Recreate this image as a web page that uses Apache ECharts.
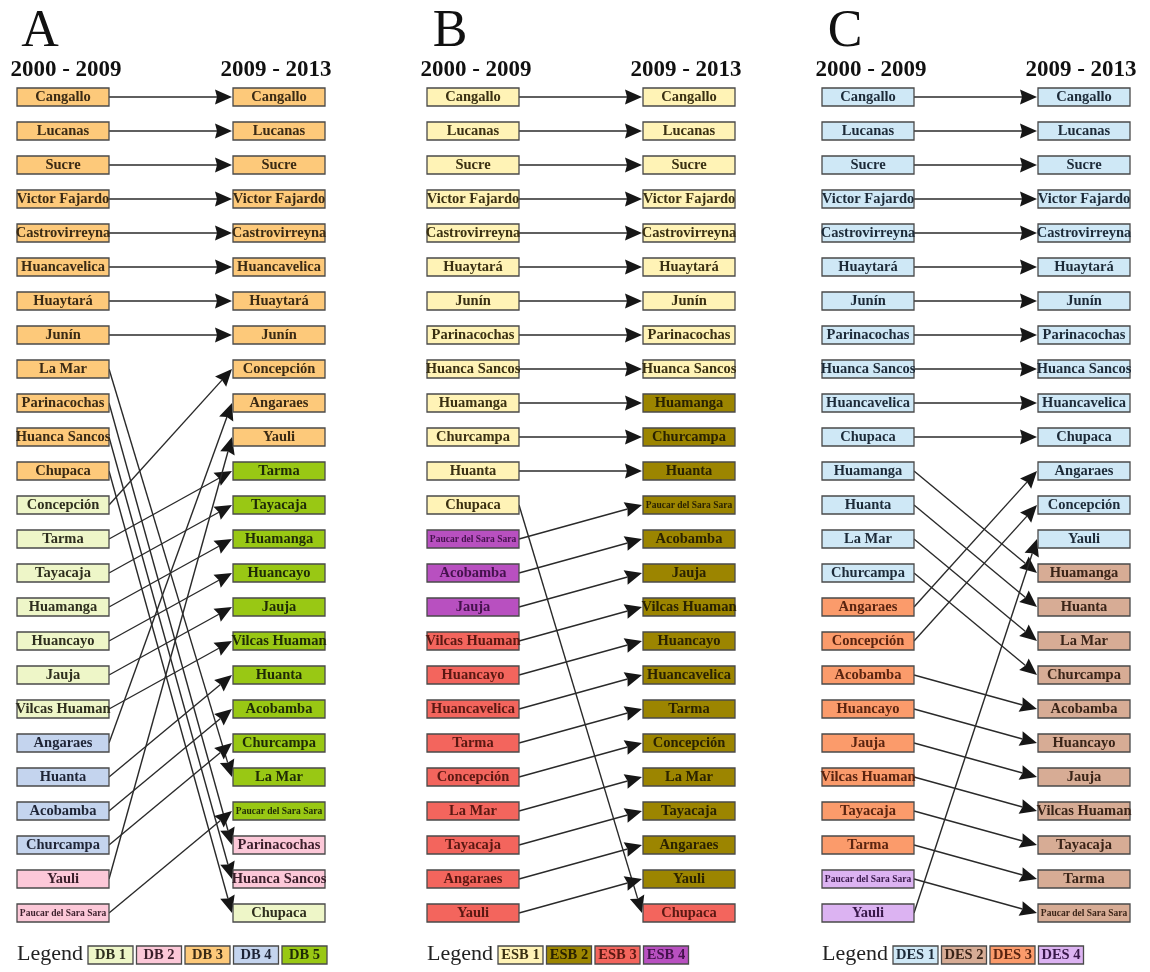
<!DOCTYPE html>
<html>
<head>
<meta charset="utf-8">
<script src="https://cdn.jsdelivr.net/npm/echarts@6/dist/echarts.min.js"></script>
<style>
html, body { margin: 0; padding: 0; background: #fff; }
#main { width: 1150px; height: 972px; }
</style>
</head>
<body>
<div id="main"></div>
<script>
var panelNames = ['A', 'B', 'C'];
var periods = ['2000 - 2009', '2009 - 2013'];

// A
var aLeft = ['Cangallo', 'Lucanas', 'Sucre', 'Victor Fajardo', 'Castrovirreyna', 'Huancavelica', 'Huaytará', 'Junín', 'La Mar', 'Parinacochas', 'Huanca Sancos', 'Chupaca', 'Concepción', 'Tarma', 'Tayacaja', 'Huamanga', 'Huancayo', 'Jauja', 'Vilcas Huaman', 'Angaraes', 'Huanta', 'Acobamba', 'Churcampa', 'Yauli', 'Paucar del Sara Sara'];
var aLeftClass = [3, 3, 3, 3, 3, 3, 3, 3, 3, 3, 3, 3, 1, 1, 1, 1, 1, 1, 1, 4, 4, 4, 4, 2, 2];
var aRight = ['Cangallo', 'Lucanas', 'Sucre', 'Victor Fajardo', 'Castrovirreyna', 'Huancavelica', 'Huaytará', 'Junín', 'Concepción', 'Angaraes', 'Yauli', 'Tarma', 'Tayacaja', 'Huamanga', 'Huancayo', 'Jauja', 'Vilcas Huaman', 'Huanta', 'Acobamba', 'Churcampa', 'La Mar', 'Paucar del Sara Sara', 'Parinacochas', 'Huanca Sancos', 'Chupaca'];
var aRightClass = [3, 3, 3, 3, 3, 3, 3, 3, 3, 3, 3, 5, 5, 5, 5, 5, 5, 5, 5, 5, 5, 5, 2, 2, 1];
var aLegend = ['DB 1', 'DB 2', 'DB 3', 'DB 4', 'DB 5'];

// B
var bLeft = ['Cangallo', 'Lucanas', 'Sucre', 'Victor Fajardo', 'Castrovirreyna', 'Huaytará', 'Junín', 'Parinacochas', 'Huanca Sancos', 'Huamanga', 'Churcampa', 'Huanta', 'Chupaca', 'Paucar del Sara Sara', 'Acobamba', 'Jauja', 'Vilcas Huaman', 'Huancayo', 'Huancavelica', 'Tarma', 'Concepción', 'La Mar', 'Tayacaja', 'Angaraes', 'Yauli'];
var bLeftClass = [1, 1, 1, 1, 1, 1, 1, 1, 1, 1, 1, 1, 1, 4, 4, 4, 3, 3, 3, 3, 3, 3, 3, 3, 3];
var bRight = ['Cangallo', 'Lucanas', 'Sucre', 'Victor Fajardo', 'Castrovirreyna', 'Huaytará', 'Junín', 'Parinacochas', 'Huanca Sancos', 'Huamanga', 'Churcampa', 'Huanta', 'Paucar del Sara Sara', 'Acobamba', 'Jauja', 'Vilcas Huaman', 'Huancayo', 'Huancavelica', 'Tarma', 'Concepción', 'La Mar', 'Tayacaja', 'Angaraes', 'Yauli', 'Chupaca'];
var bRightClass = [1, 1, 1, 1, 1, 1, 1, 1, 1, 2, 2, 2, 2, 2, 2, 2, 2, 2, 2, 2, 2, 2, 2, 2, 3];
var bLegend = ['ESB 1', 'ESB 2', 'ESB 3', 'ESB 4'];

// C
var cLeft = ['Cangallo', 'Lucanas', 'Sucre', 'Victor Fajardo', 'Castrovirreyna', 'Huaytará', 'Junín', 'Parinacochas', 'Huanca Sancos', 'Huancavelica', 'Chupaca', 'Huamanga', 'Huanta', 'La Mar', 'Churcampa', 'Angaraes', 'Concepción', 'Acobamba', 'Huancayo', 'Jauja', 'Vilcas Huaman', 'Tayacaja', 'Tarma', 'Paucar del Sara Sara', 'Yauli'];
var cLeftClass = [1, 1, 1, 1, 1, 1, 1, 1, 1, 1, 1, 1, 1, 1, 1, 3, 3, 3, 3, 3, 3, 3, 3, 4, 4];
var cRight = ['Cangallo', 'Lucanas', 'Sucre', 'Victor Fajardo', 'Castrovirreyna', 'Huaytará', 'Junín', 'Parinacochas', 'Huanca Sancos', 'Huancavelica', 'Chupaca', 'Angaraes', 'Concepción', 'Yauli', 'Huamanga', 'Huanta', 'La Mar', 'Churcampa', 'Acobamba', 'Huancayo', 'Jauja', 'Vilcas Huaman', 'Tayacaja', 'Tarma', 'Paucar del Sara Sara'];
var cRightClass = [1, 1, 1, 1, 1, 1, 1, 1, 1, 1, 1, 1, 1, 1, 2, 2, 2, 2, 2, 2, 2, 2, 2, 2, 2];
var cLegend = ['DES 1', 'DES 2', 'DES 3', 'DES 4'];

// styles
var aColors = ['#eef6c8', '#fcc8d8', '#fdc97a', '#c4d4ee', '#99c814'];
var bColors = ['#fff3b6', '#9c8500', '#f3655d', '#b850c0'];
var cColors = ['#cfe8f6', '#d7ac95', '#fb9b6b', '#dcb3f2'];
var aText = ['#2e2e1e', '#3a1e2a', '#3a2a14', '#1e2436', '#1e2a06'];
var bText = ['#3a3012', '#2a2200', '#5a1812', '#44124c'];
var cText = ['#1c2a38', '#3a2418', '#5a2410', '#38184a'];

var serif = '"Liberation Serif", "DejaVu Serif", serif';
var boxW = 92, boxH = 18;
var colCenter = [63, 473, 868];
var colGap = 216;
var rowTop = 97, rowBottom = 913;

var panels = [
  { left: aLeft, leftClass: aLeftClass, right: aRight, rightClass: aRightClass, legend: aLegend, colors: aColors, text: aText },
  { left: bLeft, leftClass: bLeftClass, right: bRight, rightClass: bRightClass, legend: bLegend, colors: bColors, text: bText },
  { left: cLeft, leftClass: cLeftClass, right: cRight, rightClass: cRightClass, legend: cLegend, colors: cColors, text: cText }
];

var grids = [], xAxes = [], yAxes = [], series = [], graphics = [];

panels.forEach(function (p, pi) {
  grids.push({ left: colCenter[pi], top: rowTop, width: colGap, height: rowBottom - rowTop });
  xAxes.push({ gridIndex: pi, type: 'value', min: 0, max: 1, show: false });
  yAxes.push({ gridIndex: pi, type: 'value', min: 1, max: p.left.length, inverse: true, show: false });

  // arrows, matched by district name
  var links = [];
  p.left.forEach(function (name, i) {
    links.push([i + 1, p.right.indexOf(name) + 1]);
  });
  series.push({
    type: 'custom',
    xAxisIndex: pi,
    yAxisIndex: pi,
    silent: true,
    z: 2,
    data: links,
    renderItem: function (params, api) {
      var a = api.coord([0, api.value(0)]);
      var b = api.coord([1, api.value(1)]);
      var x1 = a[0] + boxW / 2, y1 = a[1];
      var x2 = b[0] - boxW / 2 - 1, y2 = b[1];
      var dx = x2 - x1, dy = y2 - y1;
      var len = Math.sqrt(dx * dx + dy * dy);
      var ux = dx / len, uy = dy / len;
      var headLen = 17, headW = 7.5;
      var bx = x2 - ux * headLen, by = y2 - uy * headLen;
      return {
        type: 'group',
        children: [
          {
            type: 'line',
            shape: { x1: x1, y1: y1, x2: bx + ux * 2, y2: by + uy * 2 },
            style: { stroke: '#2a2a2a', lineWidth: 1.4 }
          },
          {
            type: 'polygon',
            shape: { points: [[x2, y2], [bx - uy * headW, by + ux * headW], [bx + ux * 2, by + uy * 2], [bx + uy * headW, by - ux * headW]] },
            style: { fill: '#161616' }
          }
        ]
      };
    }
  });

  // boxes
  var boxes = [], names = [], classes = [];
  p.left.forEach(function (name, i) {
    boxes.push([0, i + 1]); names.push(name); classes.push(p.leftClass[i]);
  });
  p.right.forEach(function (name, i) {
    boxes.push([1, i + 1]); names.push(name); classes.push(p.rightClass[i]);
  });
  series.push({
    type: 'custom',
    xAxisIndex: pi,
    yAxisIndex: pi,
    silent: true,
    z: 3,
    data: boxes,
    renderItem: function (params, api) {
      var c = api.coord([api.value(0), api.value(1)]);
      var name = names[params.dataIndex];
      var cls = classes[params.dataIndex] - 1;
      var small = name.length > 16;
      return {
        type: 'group',
        children: [
          {
            type: 'rect',
            shape: { x: c[0] - boxW / 2, y: c[1] - boxH / 2, width: boxW, height: boxH },
            style: { fill: p.colors[cls], stroke: '#4a4a4a', lineWidth: 1.3 }
          },
          {
            type: 'text',
            style: {
              text: name,
              x: c[0],
              y: c[1] + 0.5,
              align: 'center',
              verticalAlign: 'middle',
              font: 'bold ' + (small ? '9.5px ' : '14.5px ') + serif,
              fill: p.text[cls]
            }
          }
        ]
      };
    }
  });

  // panel letter and period headers
  graphics.push({
    type: 'text', x: colCenter[pi] - 23, y: 32,
    style: { text: panelNames[pi], align: 'center', verticalAlign: 'middle', font: '52px ' + serif, fill: '#111' }
  });
  periods.forEach(function (t, k) {
    graphics.push({
      type: 'text', x: colCenter[pi] + k * colGap + (k === 0 ? 3 : -3), y: 70,
      style: { text: t, align: 'center', verticalAlign: 'middle', font: 'bold 23px ' + serif, fill: '#111' }
    });
  });

  // legend
  var lx = colCenter[pi] - boxW / 2;
  graphics.push({
    type: 'text', x: lx, y: 954,
    style: { text: 'Legend', verticalAlign: 'middle', font: '22px ' + serif, fill: '#222' }
  });
  p.legend.forEach(function (t, k) {
    var bx = lx + 71 + k * 48.5;
    graphics.push({
      type: 'rect', shape: { x: bx, y: 946, width: 45, height: 18 },
      style: { fill: p.colors[k], stroke: '#4a4a4a', lineWidth: 1.3 }
    });
    graphics.push({
      type: 'text', x: bx + 22.5, y: 955.5,
      style: { text: t, align: 'center', verticalAlign: 'middle', font: 'bold 14.5px ' + serif, fill: p.text[k] }
    });
  });
});

var chart = echarts.init(document.getElementById('main'));
chart.setOption({
  animation: false,
  backgroundColor: '#fff',
  grid: grids,
  xAxis: xAxes,
  yAxis: yAxes,
  series: series,
  graphic: graphics
});
</script>
</body>
</html>
